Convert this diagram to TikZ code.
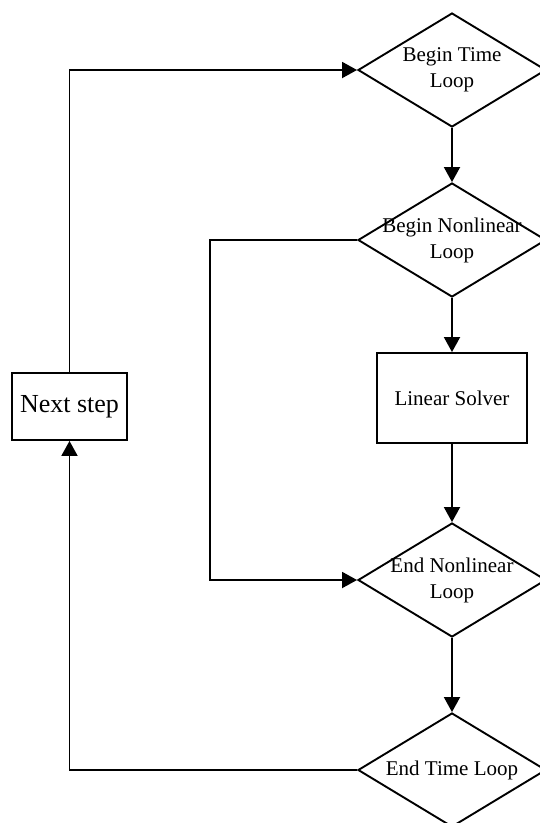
\documentclass[tikz,border=0pt]{standalone}
\usepackage{fontspec}
\setmainfont{Liberation Serif}
\usetikzlibrary{shapes.geometric,arrows.meta}
\begin{document}
\begin{tikzpicture}[x=1pt,y=-1pt,line width=1.9pt,
  flow/.style={-{Triangle[length=15pt,width=16pt]}},
  decision/.style={draw,diamond,inner sep=0pt,minimum width=188pt,minimum height=114pt},
  caption/.style={font=\fontsize{21}{26}\selectfont,align=center,inner sep=0pt},
  process/.style={draw,rectangle,inner sep=0pt,font=\fontsize{21}{26}\selectfont}]
  \clip (0,0) rectangle (540,823);
  \fill[white] (0,0) rectangle (540,823);

  % decisions down the right-hand column
  \node[decision] (d1) at (452,70) {};
  \node[caption] (t1) at (d1.center) {Begin Time\\Loop};
  \node[decision] (d2) at (452,240) {};
  \node[caption] (t2) at (d2.center) {Begin Nonlinear\\Loop};
  \node[process,minimum width=150pt,minimum height=90pt] (ls) at (452,398) {Linear Solver};
  \node[decision] (d3) at (452,580) {};
  \node[caption] (t3) at (d3.center) {End Nonlinear\\Loop};
  \node[decision] (d4) at (452,770) {};
  \node[caption] (t4) at (d4.center) {End Time Loop};

  % time step box on the left
  \node[process,minimum width=115pt,minimum height=67pt,font=\fontsize{26}{30}\selectfont] (ns) at (69.5,406.5) {Next step};

  \coordinate (lx) at (210,0);

  \draw[flow] (d1.south) -- (d2.north);
  \draw[flow] (d2.south) -- (ls.north);
  \draw[flow] (ls.south) -- (d3.north);
  \draw[flow] (d3.south) -- (d4.north);
  \draw[flow] (d4.west) -| (ns.south);
  \draw[flow] (ns.north) |- (d1.west);
  \draw[flow] (d2.west) -- (d2.west -| lx) -- (d3.west -| lx) -- (d3.west);
\end{tikzpicture}
\end{document}
